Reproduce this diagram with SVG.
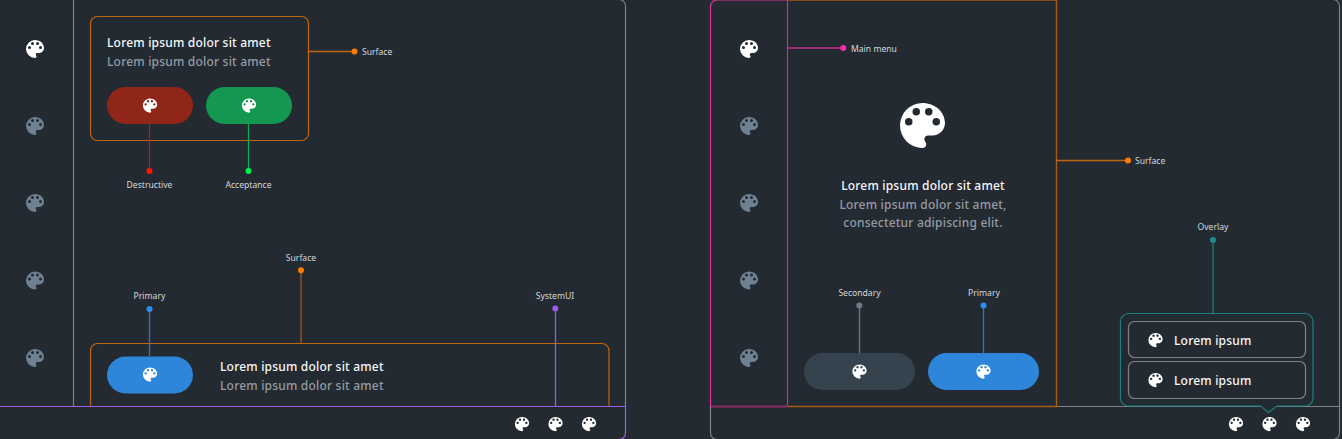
<svg xmlns="http://www.w3.org/2000/svg" width="1342" height="439" viewBox="0 0 1342 439">
<style>
text{font-family:"Noto Sans",sans-serif}
.lb{font-size:8.600px;fill:#d5d8dc;text-anchor:middle}
.ls{font-size:8.600px;fill:#d5d8dc}
.h{font-size:12px;font-weight:500;fill:#f7f8f9;letter-spacing:.2px}
.s{font-size:12px;font-weight:500;fill:#969ca3;letter-spacing:.2px}
.m{text-anchor:middle}
.w{color:#fff}
.g{color:#6e8091}
.f{fill:none;stroke-width:1.200}
#connectors path{stroke-width:1.300}
</style>
<defs>
<symbol id="p" viewBox="0 0 24 24"><path fill="currentColor" fill-rule="evenodd" d="M12 3a9 9 0 0 0 0 18c.83 0 1.500-.67 1.500-1.500 0-.39-.15-.74-.39-1.010-.23-.26-.38-.61-.38-.99 0-.83.67-1.500 1.500-1.500H16c2.760 0 5-2.240 5-5 0-4.420-4.030-8-9-8zm-5.500 9a1.500 1.500 0 1 1 0-3 1.500 1.500 0 0 1 0 3zm3-4a1.500 1.500 0 1 1 0-3 1.500 1.500 0 0 1 0 3zm5 0a1.500 1.500 0 1 1 0-3 1.500 1.500 0 0 1 0 3zm3 4a1.500 1.500 0 1 1 0-3 1.500 1.500 0 0 1 0 3z"/></symbol>
</defs>
<rect width="1342" height="439" fill="#232a32"/>
<g id="screen-left">
<path class="f" stroke="#7d8288" d="M619 -.5a6.500 6.500 0 0 1 6.500 6.500V406M73.500 0V406"/>
<path class="f" stroke="#9a5ce0" d="M0 406.500H625.500V433a6.500 6.500 0 0 1-6.500 6.500"/>
<g class="g"><use class="w" href="#p" x="23" y="37" width="24" height="24"/><use href="#p" x="23" y="114" width="24" height="24"/><use href="#p" x="23" y="191" width="24" height="24"/><use href="#p" x="23" y="268.500" width="24" height="24"/><use href="#p" x="23" y="346" width="24" height="24"/></g>
<g class="w"><use href="#p" x="512.500" y="414.500" width="19" height="19"/><use href="#p" x="546" y="414.500" width="19" height="19"/><use href="#p" x="579.500" y="414.500" width="19" height="19"/></g>
</g>
<g id="card-top">
<rect class="f" x="90.500" y="16.500" width="218" height="124" rx="7" stroke="#c2670f"/>
<text class="h" x="107" y="47">Lorem ipsum dolor sit amet</text>
<text class="s" x="107" y="66">Lorem ipsum dolor sit amet</text>
</g>
<g id="btn-destructive"><rect x="107" y="87" width="86" height="37" rx="18.500" fill="#8f2618"/><use class="w" href="#p" x="140.500" y="96" width="19" height="19"/></g>
<g id="btn-acceptance"><rect x="206" y="87" width="86" height="37" rx="18.500" fill="#149750"/><use class="w" href="#p" x="239.500" y="96" width="19" height="19"/></g>
<g id="card-bottom">
<path class="f" stroke="#c2670f" d="M90.500 406V350.500a7 7 0 0 1 7-7H602a7 7 0 0 1 7 7V406"/>
<text class="h" x="220" y="370.500">Lorem ipsum dolor sit amet</text>
<text class="s" x="220" y="389.500">Lorem ipsum dolor sit amet</text>
</g>
<g id="btn-primary-left"><rect x="107" y="356.500" width="86" height="37" rx="18.500" fill="#2d86d9"/><use class="w" href="#p" x="140.500" y="365" width="19" height="19"/></g>
<g id="screen-right">
<path class="f" stroke="#7d8288" d="M1056 406.500H1339.500M1333 -.5a6.500 6.500 0 0 1 6.500 6.500V433a6.500 6.500 0 0 1-6.500 6.500M710.500 406V433a6.500 6.500 0 0 0 6.500 6.500"/>
</g>
<g id="main-menu">
<path class="f" stroke="#c92f8e" d="M787.500 0V406.500"/>
<path class="f" stroke="#e8309c" d="M787.500 0H717a6.500 6.500 0 0 0-6.500 6.500V406.500"/>
<path d="M711 406.500H787.500" fill="none" stroke="#8f2a62" stroke-width="2"/>
<g class="g"><use class="w" href="#p" x="737" y="37" width="24" height="24"/><use href="#p" x="737" y="114" width="24" height="24"/><use href="#p" x="737" y="191" width="24" height="24"/><use href="#p" x="737" y="268.500" width="24" height="24"/><use href="#p" x="737" y="346" width="24" height="24"/></g>
</g>
<g id="surface-right">
<path fill="none" stroke="#a85a14" stroke-width="1.500" d="M788 0H1056.500V406.500H788"/>
<use class="w" href="#p" x="892.500" y="95.500" width="60" height="60"/>
<text class="h m" x="923" y="190">Lorem ipsum dolor sit amet</text>
<text class="s m" x="923" y="209">Lorem ipsum dolor sit amet,</text>
<text class="s m" x="923" y="227">consectetur adipiscing elit.</text>
</g>
<g id="btn-secondary"><rect x="804" y="353" width="111" height="37" rx="18.500" fill="#35434e"/><use class="w" href="#p" x="850" y="362" width="19" height="19"/></g>
<g id="btn-primary-right"><rect x="928" y="353" width="111" height="37" rx="18.500" fill="#2d86d9"/><use class="w" href="#p" x="974" y="362" width="19" height="19"/></g>
<g id="bottom-icons-right" class="w"><use href="#p" x="1226.500" y="414.500" width="19" height="19"/><use href="#p" x="1260" y="414.500" width="19" height="19"/><use href="#p" x="1293.500" y="414.500" width="19" height="19"/></g>
<g id="overlay">
<path fill="#232a32" stroke="#1c7f7c" stroke-width="1.200" d="M1128.500 313.500H1305a8 8 0 0 1 8 8V398.500a8 8 0 0 1-8 7.500H1277L1268.500 412.500L1260.500 406H1128.500a8 8 0 0 1-8-7.500V321.500a8 8 0 0 1 8-8Z"/>
<rect class="f" x="1128.500" y="321.500" width="177" height="36" rx="6" stroke="#7d8288"/>
<use class="w" href="#p" x="1146" y="330.500" width="19" height="19"/>
<text class="h" x="1174" y="345">Lorem ipsum</text>
<rect class="f" x="1128.500" y="361.500" width="177" height="37" rx="6" stroke="#7d8288"/>
<use class="w" href="#p" x="1146" y="370.500" width="19" height="19"/>
<text class="h" x="1174" y="385">Lorem ipsum</text>
</g>
<g id="connectors" fill="none">
<path stroke="#c2670f" d="M308 51.500H354"/>
<path stroke="#a0291c" d="M149.500 124V171"/>
<path stroke="#10b04f" d="M248.500 124V171"/>
<path stroke="#2d78bd" d="M149.500 309V356"/>
<path stroke="#9a5a1e" d="M301 270V343"/>
<path stroke="#9a5ce0" d="M555.500 308V406"/>
<path stroke="#c92f8e" d="M788 48H843"/>
<path stroke="#c2670f" d="M1056 160.500H1128"/>
<path stroke="#6e7b86" d="M859.500 306V353"/>
<path stroke="#2d78bd" d="M983.500 306V353"/>
<path stroke="#1c7f7c" d="M1213 240V313"/>
</g>
<g id="dots">
<circle cx="354.500" cy="51.500" r="3" fill="#ff7a00"/>
<circle cx="149.500" cy="171" r="3" fill="#ff1500"/>
<circle cx="248.500" cy="171" r="3" fill="#00f050"/>
<circle cx="149.500" cy="309" r="3" fill="#2a90ee"/>
<circle cx="301" cy="270.300" r="3" fill="#ff7a00"/>
<circle cx="555.300" cy="308.500" r="3" fill="#9a5cf0"/>
<circle cx="843.300" cy="48" r="3" fill="#f52fa8"/>
<circle cx="1128" cy="160.500" r="3" fill="#ff7a00"/>
<circle cx="859.300" cy="305.500" r="3" fill="#6e7b86"/>
<circle cx="983.500" cy="305.500" r="3" fill="#2a90ee"/>
<circle cx="1213" cy="240" r="3" fill="#1c8f8a"/>
</g>
<g id="labels">
<text class="ls" x="362" y="55">Surface</text>
<text class="lb" x="149.500" y="188">Destructive</text>
<text class="lb" x="248.500" y="188">Acceptance</text>
<text class="lb" x="149.500" y="299">Primary</text>
<text class="lb" x="301" y="260.500">Surface</text>
<text class="lb" x="555" y="299">SystemUI</text>
<text class="ls" x="851" y="51.500">Main menu</text>
<text class="ls" x="1135" y="164">Surface</text>
<text class="lb" x="859.500" y="296">Secondary</text>
<text class="lb" x="984" y="296">Primary</text>
<text class="lb" x="1213" y="230">Overlay</text>
</g>
</svg>
